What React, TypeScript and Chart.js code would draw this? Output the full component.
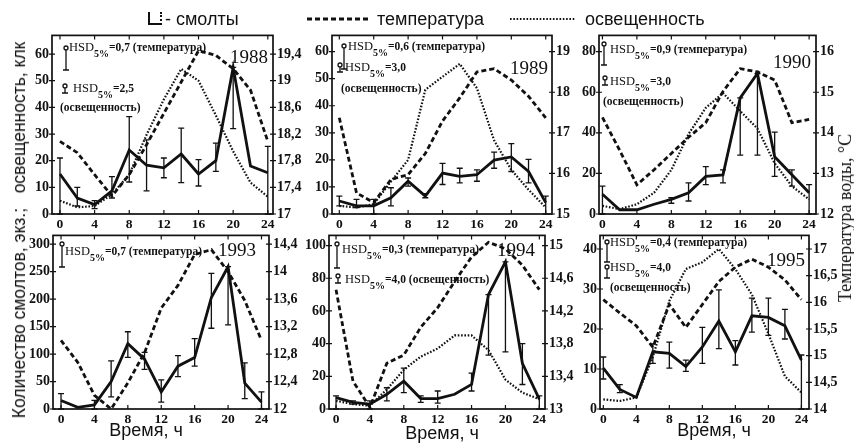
import React, { useEffect, useRef } from 'react';
import { Chart, registerables } from 'chart.js';

Chart.register(...registerables);

// ---------- data ----------
const hours = [0, 2, 4, 6, 8, 10, 12, 14, 16, 18, 20, 22, 24];
const hourTicks = [0, 4, 8, 12, 16, 20, 24];

// 1988
const smolts1988 = [15, 6, 3.5, 8.7, 24, 18.3, 17.3, 22.5, 15, 20, 55, 18, 15.5];
const smoltsLo1988 = [0, 3, 2, 6, 12, 8.7, 13.6, 11.8, 10.5, 16, 32, 18, 0];
const smoltsHi1988 = [21, 10, 5, 14, 36.5, 27.8, 21, 32.2, 20.4, 26.6, 55, 18, 25.4];
const temp1988 = [18.09, 17.92, 17.59, 17.27, 17.59, 18.04, 18.51, 18.98, 19.45, 19.38, 19.18, 18.86, 18.09];
const light1988 = [5, 2.5, 3, 7.4, 14.8, 29.7, 43, 54.4, 50, 37, 23.5, 11.8, 6.5];
const leftTicks1988 = [0, 10, 20, 30, 40, 50, 60];
const rightTicks1988 = [17, 17.4, 17.8, 18.2, 18.6, 19, 19.4];

// 1989
const smolts1989 = [4.8, 3.0, 3.0, 6.0, 12.1, 6.6, 15.1, 13.9, 14.5, 19.9, 21.1, 15.7, 4.2];
const smoltsLo1989 = [3, 2.4, 0, 3, 10.3, 6, 10.9, 11.5, 12.1, 16.9, 15.7, 11.5, 0];
const smoltsHi1989 = [6.6, 5.4, 5.4, 9.7, 13.3, 7.5, 18.7, 16.9, 16.3, 22.9, 26, 20.2, 6.6];
const temp1989 = [17.37, 15.52, 15.28, 15.85, 15.97, 16.49, 17.29, 17.86, 18.5, 18.58, 18.3, 17.9, 17.37];
const light1989 = [3, 2.4, 3.6, 12, 20, 45.9, 50.7, 55.5, 46.5, 27.2, 16.3, 9, 2.4];
const leftTicks1989 = [0, 10, 20, 30, 40, 50, 60];
const rightTicks1989 = [15, 16, 17, 18, 19];

// 1990
const smolts1990 = [9.7, 2.1, 2.1, 4.8, 7.2, 10.5, 18.5, 19.3, 57.2, 69.2, 28.2, 19.3, 10.5];
const smoltsLo1990 = [0, 2.1, 2.1, 4.8, 5.3, 6.4, 14.5, 15.3, 29, 29, 18.5, 13.7, 0];
const smoltsHi1990 = [13.7, 2.1, 2.1, 4.8, 8, 15.3, 23.3, 21.7, 57.2, 69.2, 40.3, 21.7, 14.5];
const temp1990 = [14.38, 13.57, 12.72, 13.09, 13.49, 13.89, 14.25, 15.02, 15.58, 15.5, 15.3, 14.25, 14.33];
const light1990 = [4, 2.4, 4.8, 10.5, 21.7, 39.4, 52.3, 59.6, 50.7, 42.1, 25, 13.7, 7.2];
const leftTicks1990 = [0, 20, 40, 60, 80];
const rightTicks1990 = [12, 13, 14, 15, 16];

// 1993
const smolts1993 = [15.6, 3, 7.5, 50, 118.8, 90.6, 31, 78, 93.8, 203, 259, 47, 12.5];
const smoltsLo1993 = [0, 3, 0, 21.9, 93.8, 72, 12.5, 59, 78, 147, 153, 19, 0];
const smoltsHi1993 = [28, 3, 15.6, 87.5, 140.6, 103, 53, 97, 128, 247, 259, 84, 31];
const temp1993 = [13.0, 12.68, 12.2, 12.0, 12.38, 12.82, 13.47, 13.8, 14.25, 14.32, 14.0, 13.58, 13.0];
const leftTicks1993 = [0, 50, 100, 150, 200, 250, 300];
const rightTicks1993 = [12, 12.4, 12.8, 13.2, 13.6, 14, 14.4];

// 1994
const smolts1994 = [7, 4, 3, 9, 17, 6.4, 6.4, 9, 15, 70, 90, 28, 6];
const smoltsLo1994 = [0, 3, 0, 5, 10, 4, 3.6, 9, 11, 33, 35, 15, 0];
const smoltsHi1994 = [8, 5, 5, 13, 25, 8, 11, 9, 22, 70, 90, 40, 8];
const temp1994 = [14.46, 13.34, 13.02, 13.56, 13.66, 14.0, 14.24, 14.56, 14.86, 15.04, 14.96, 14.76, 14.46];
const light1994 = [5, 3, 2, 12, 24, 32, 37, 45, 45, 36, 18, 10, 6];
const leftTicks1994 = [0, 20, 40, 60, 80, 100];
const rightTicks1994 = [13, 13.4, 13.8, 14.2, 14.6, 15];

// 1995
const smolts1995 = [10.2, 4.9, 2.9, 14.3, 13.9, 10.6, 15.5, 22, 14.3, 23.3, 22.9, 20.8, 12.2];
const smoltsLo1995 = [7.5, 4.1, 2.9, 11.4, 10.2, 9.4, 11.4, 15.1, 11, 19.2, 18.4, 17.5, 0];
const smoltsHi1995 = [13, 6.1, 2.9, 16.3, 16.7, 12.2, 20.4, 29.8, 17.1, 27.7, 27.7, 24.9, 13.5];
const temp1995 = [16.05, 15.8, 15.56, 15.16, 15.96, 15.53, 15.96, 16.39, 16.66, 16.81, 16.66, 16.42, 16.05];
const light1995 = [2.4, 2, 2.9, 13, 27, 35, 36.7, 40, 35, 28.6, 18.8, 8.2, 4.1];
const leftTicks1995 = [0, 10, 20, 30, 40];
const rightTicks1995 = [14, 14.5, 15, 15.5, 16, 16.5, 17];

// ---------- layout / style ----------
const W_L = 30;
const W_R = 34;
const PAD_T = 10;
const H_X = 18;
const INK = '#111';
const SERIF = '"Liberation Serif", "Times New Roman", serif';
const SANS = '"Liberation Sans", Arial, sans-serif';

type Marker = { x: number; y1: number; y2: number };
type TextItem = { x: number; y: number; hsd?: string; text?: string };
type PanelCfg = {
  year: string;
  smolts: number[];
  lo: number[];
  hi: number[];
  temp: number[];
  light?: number[];
  leftTicks: number[];
  rightTicks: number[];
  yMax: number;
  box: { L: number; R: number; T: number; B: number };
  xRange: [number, number];
  markers: Marker[];
  texts: TextItem[];
  yearPos: { x: number; y: number };
};

const panels: PanelCfg[] = [
  {
    year: '1988', smolts: smolts1988, lo: smoltsLo1988, hi: smoltsHi1988, temp: temp1988, light: light1988,
    leftTicks: leftTicks1988, rightTicks: rightTicks1988, yMax: 67,
    box: { L: 52, R: 273, T: 33, B: 214 }, xRange: [-0.92, 24.6],
    markers: [{ x: 66, y1: 46, y2: 70 }, { x: 65, y1: 84, y2: 93 }],
    texts: [
      { x: 69, y: 41, hsd: '=0,7 (температура)' },
      { x: 73, y: 82, hsd: '=2,5' },
      { x: 60, y: 101, text: '(освещенность)' },
    ],
    yearPos: { x: 230, y: 47 },
  },
  {
    year: '1989', smolts: smolts1989, lo: smoltsLo1989, hi: smoltsHi1989, temp: temp1989, light: light1989,
    leftTicks: leftTicks1989, rightTicks: rightTicks1989, yMax: 66,
    box: { L: 332, R: 552, T: 33, B: 214 }, xRange: [-0.85, 24.73],
    markers: [{ x: 344, y1: 44, y2: 69 }, { x: 340, y1: 63, y2: 72 }],
    texts: [
      { x: 348, y: 40, hsd: '=0,6 (температура)' },
      { x: 345, y: 61, hsd: '=3,0' },
      { x: 341, y: 82, text: '(освещенность)' },
    ],
    yearPos: { x: 510, y: 58 },
  },
  {
    year: '1990', smolts: smolts1990, lo: smoltsLo1990, hi: smoltsHi1990, temp: temp1990, light: light1990,
    leftTicks: leftTicks1990, rightTicks: rightTicks1990, yMax: 88,
    box: { L: 599, R: 816, T: 33, B: 214 }, xRange: [-0.4, 24.8],
    markers: [{ x: 604, y1: 42, y2: 65 }, { x: 605, y1: 76, y2: 85 }],
    texts: [
      { x: 610, y: 43, hsd: '=0,9 (температура)' },
      { x: 610, y: 75, hsd: '=3,0' },
      { x: 603, y: 95, text: '(освещенность)' },
    ],
    yearPos: { x: 773, y: 52 },
  },
  {
    year: '1993', smolts: smolts1993, lo: smoltsLo1993, hi: smoltsHi1993, temp: temp1993,
    leftTicks: leftTicks1993, rightTicks: rightTicks1993, yMax: 316,
    box: { L: 53, R: 269, T: 233, B: 409 }, xRange: [-0.96, 24.9],
    markers: [{ x: 62, y1: 242, y2: 267 }],
    texts: [{ x: 65, y: 245, hsd: '=0,7 (температура)' }],
    yearPos: { x: 218, y: 240 },
  },
  {
    year: '1994', smolts: smolts1994, lo: smoltsLo1994, hi: smoltsHi1994, temp: temp1994, light: light1994,
    leftTicks: leftTicks1994, rightTicks: rightTicks1994, yMax: 106.2,
    box: { L: 329, R: 545, T: 233, B: 409 }, xRange: [-0.83, 24.67],
    markers: [{ x: 337, y1: 242, y2: 268 }, { x: 338, y1: 274, y2: 283 }],
    texts: [
      { x: 342, y: 243, hsd: '=0,3 (температура)' },
      { x: 345, y: 273, hsd: '=4,0 (освещенность)' },
    ],
    yearPos: { x: 497, y: 240 },
  },
  {
    year: '1995', smolts: smolts1995, lo: smoltsLo1995, hi: smoltsHi1995, temp: temp1995, light: light1995,
    leftTicks: leftTicks1995, rightTicks: rightTicks1995, yMax: 43.4,
    box: { L: 600, R: 809, T: 233, B: 409 }, xRange: [-0.4, 24.92],
    markers: [{ x: 607, y1: 240, y2: 262 }, { x: 607, y1: 265, y2: 278 }],
    texts: [
      { x: 610, y: 236, hsd: '=0,4 (температура)' },
      { x: 610, y: 261, hsd: '=4,0' },
      { x: 610, y: 281, text: '(освещенность)' },
    ],
    yearPos: { x: 767, y: 250 },
  },
];

const fmt = (v: number) => String(Math.round(v * 100) / 100).replace('.', ',');

function Panel({ cfg }: { cfg: PanelCfg }) {
  const ref = useRef<HTMLCanvasElement>(null);
  const { L, R, T, B } = cfg.box;
  const cw = R - L + W_L + W_R;
  const ch = B - T + PAD_T + H_X;
  const cl = L - W_L;
  const ct = T - PAD_T;

  useEffect(() => {
    const canvas = ref.current;
    if (!canvas) return;
    const lTop = cfg.leftTicks[cfg.leftTicks.length - 1];
    const rMin = cfg.rightTicks[0];
    const rTop = cfg.rightTicks[cfg.rightTicks.length - 1];
    const y2Max = rMin + ((rTop - rMin) * cfg.yMax) / lTop;

    const overlay = {
      id: 'overlay',
      afterDatasetsDraw(chart: any) {
        const { ctx, chartArea } = chart;
        const { left, right, top, bottom } = chartArea;
        const xs = chart.scales.x;
        const ys = chart.scales.y;
        const y2s = chart.scales.y2;
        ctx.save();
        ctx.strokeStyle = INK;
        ctx.lineCap = 'butt';
        // error bars
        ctx.lineWidth = 1.3;
        hours.forEach((h, i) => {
          const lo = cfg.lo[i];
          const hi = cfg.hi[i];
          if (lo == null || hi == null || hi - lo <= 0) return;
          const px = xs.getPixelForValue(h);
          const pLo = ys.getPixelForValue(lo);
          const pHi = ys.getPixelForValue(hi);
          ctx.beginPath();
          ctx.moveTo(px, pLo);
          ctx.lineTo(px, pHi);
          ctx.moveTo(px - 3, pLo);
          ctx.lineTo(px + 3, pLo);
          ctx.moveTo(px - 3, pHi);
          ctx.lineTo(px + 3, pHi);
          ctx.stroke();
        });
        // frame
        ctx.lineWidth = 1.7;
        ctx.strokeRect(left, top, right - left, bottom - top);
        ctx.lineWidth = 1.2;
        ctx.beginPath();
        hourTicks.forEach((h) => {
          const px = xs.getPixelForValue(h);
          ctx.moveTo(px, bottom);
          ctx.lineTo(px, bottom - 4);
          ctx.moveTo(px, top);
          ctx.lineTo(px, top + 4);
        });
        cfg.leftTicks.forEach((v) => {
          const py = ys.getPixelForValue(v);
          ctx.moveTo(left - 3, py);
          ctx.lineTo(left + 3, py);
        });
        cfg.rightTicks.forEach((v) => {
          const py = y2s.getPixelForValue(v);
          ctx.moveTo(right - 3, py);
          ctx.lineTo(right + 3, py);
        });
        ctx.stroke();
        // HSD markers
        ctx.lineWidth = 1.3;
        cfg.markers.forEach((m) => {
          const mx = m.x - cl;
          const my1 = m.y1 - ct;
          const my2 = m.y2 - ct;
          ctx.beginPath();
          ctx.arc(mx, my1 + 2, 2, 0, Math.PI * 2);
          ctx.moveTo(mx, my1 + 4);
          ctx.lineTo(mx, my2);
          ctx.moveTo(mx - 3, my2);
          ctx.lineTo(mx + 3, my2);
          ctx.stroke();
        });
        ctx.restore();
      },
    };

    const pts = (arr: number[]) => hours.map((h, i) => ({ x: h, y: arr[i] }));
    const datasets: any[] = [];
    if (cfg.light) {
      datasets.push({
        label: 'освещенность', data: pts(cfg.light), yAxisID: 'y',
        borderColor: INK, borderWidth: 2.2, borderDash: [1.6, 1.7], pointRadius: 0, tension: 0,
      });
    }
    datasets.push({
      label: 'температура', data: pts(cfg.temp), yAxisID: 'y2',
      borderColor: INK, borderWidth: 2.8, borderDash: [5, 3], pointRadius: 0, tension: 0,
    });
    datasets.push({
      label: 'смолты', data: pts(cfg.smolts), yAxisID: 'y',
      borderColor: INK, borderWidth: 2.8, pointRadius: 0, tension: 0,
    });

    const tickFont = { family: SERIF, size: 14, weight: 'bold' as const };
    const chart = new Chart(canvas, {
      type: 'line',
      data: { datasets },
      options: {
        animation: false,
        responsive: false,
        events: [],
        layout: { padding: { top: PAD_T, left: 0, right: 0, bottom: 0 } },
        plugins: { legend: { display: false }, tooltip: { enabled: false } },
        scales: {
          x: {
            type: 'linear', min: cfg.xRange[0], max: cfg.xRange[1],
            afterBuildTicks: (s: any) => { s.ticks = hourTicks.map((v) => ({ value: v })); },
            afterFit: (s: any) => { s.height = H_X; },
            grid: { display: false, drawTicks: false },
            border: { display: false },
            ticks: { font: { family: SERIF, size: 13.5, weight: 'bold' }, color: INK, padding: 2, maxRotation: 0, autoSkip: false, callback: (v: any) => String(v) },
          },
          y: {
            type: 'linear', position: 'left', min: 0, max: cfg.yMax,
            afterBuildTicks: (s: any) => { s.ticks = cfg.leftTicks.map((v) => ({ value: v })); },
            afterFit: (s: any) => { s.width = W_L; },
            grid: { display: false, drawTicks: false },
            border: { display: false },
            ticks: { font: tickFont, color: INK, padding: 3, autoSkip: false, callback: (v: any) => fmt(v) },
          },
          y2: {
            type: 'linear', position: 'right', min: rMin, max: y2Max,
            afterBuildTicks: (s: any) => { s.ticks = cfg.rightTicks.map((v) => ({ value: v })); },
            afterFit: (s: any) => { s.width = W_R; },
            grid: { display: false, drawTicks: false },
            border: { display: false },
            ticks: { font: tickFont, color: INK, padding: 4, autoSkip: false, callback: (v: any) => fmt(v) },
          },
        },
      } as any,
      plugins: [overlay],
    });
    return () => chart.destroy();
  }, []);

  return (
    <canvas
      ref={ref}
      width={cw}
      height={ch}
      style={{ position: 'absolute', left: cl, top: ct, width: cw, height: ch }}
    />
  );
}

function HsdText({ item }: { item: TextItem }) {
  const base: React.CSSProperties = {
    position: 'absolute', left: item.x, top: item.y, fontFamily: SERIF, fontSize: 11.5,
    lineHeight: '13px', whiteSpace: 'nowrap', color: INK, fontWeight: 'bold',
  };
  if (item.text) return <div style={base}>{item.text}</div>;
  return (
    <div style={base}>
      <span style={{ fontSize: 12.5, fontWeight: 'normal' }}>HSD</span>
      <span style={{ fontSize: 10, position: 'relative', top: 6 }}>5%</span>
      <span>{item.hsd}</span>
    </div>
  );
}

export default function App() {
  return (
    <div style={{ position: 'fixed', left: 0, top: 0, width: 854, height: 443, background: '#fff', overflow: 'hidden' }}>
      {panels.map((p) => <Panel key={p.year} cfg={p} />)}

      {panels.map((p) => (
        <React.Fragment key={'t' + p.year}>
          {p.texts.map((t, i) => <HsdText key={i} item={t} />)}
          <div style={{ position: 'absolute', left: p.yearPos.x, top: p.yearPos.y, fontFamily: SERIF, fontSize: 19, lineHeight: '20px', color: INK }}>{p.year}</div>
        </React.Fragment>
      ))}

      {/* legend */}
      <div style={{ position: 'absolute', left: 148, top: 12, width: 10, height: 11, borderLeft: `2px solid ${INK}`, borderBottom: `2px solid ${INK}`, borderRight: `2px dotted ${INK}` }} />
      <div style={{ position: 'absolute', left: 165, top: 8, fontFamily: SANS, fontSize: 18, lineHeight: '22px', color: INK, whiteSpace: 'nowrap' }}>- смолты</div>
      <svg style={{ position: 'absolute', left: 307, top: 14 }} width={62} height={10}>
        <line x1={0} y1={5} x2={62} y2={5} stroke={INK} strokeWidth={3} strokeDasharray="5,3" />
      </svg>
      <div style={{ position: 'absolute', left: 377, top: 8, fontFamily: SANS, fontSize: 18, lineHeight: '22px', color: INK, whiteSpace: 'nowrap' }}>температура</div>
      <svg style={{ position: 'absolute', left: 510, top: 14 }} width={66} height={10}>
        <line x1={0} y1={5} x2={66} y2={5} stroke={INK} strokeWidth={2.2} strokeDasharray="1.6,1.7" />
      </svg>
      <div style={{ position: 'absolute', left: 585, top: 8, fontFamily: SANS, fontSize: 18, lineHeight: '22px', color: INK, whiteSpace: 'nowrap' }}>освещенность</div>

      {/* axis titles */}
      <div style={{ position: 'absolute', left: 19, top: 230, transform: 'translate(-50%, -50%) rotate(-90deg)', fontFamily: SANS, fontSize: 17.5, lineHeight: '20px', color: INK, whiteSpace: 'nowrap' }}>
        Количество смолтов, экз.;{'\u00a0\u00a0\u00a0'}освещенность, клк
      </div>
      <div style={{ position: 'absolute', left: 845, top: 218, transform: 'translate(-50%, -50%) rotate(-90deg)', fontFamily: SERIF, fontSize: 18, lineHeight: '20px', color: INK, whiteSpace: 'nowrap' }}>
        Температура воды, °C
      </div>

      {[{ x: 146, y: 430 }, { x: 442, y: 433 }, { x: 714, y: 430 }].map((p, i) => (
        <div key={i} style={{ position: 'absolute', left: p.x, top: p.y, transform: 'translate(-50%, -50%)', fontFamily: SANS, fontSize: 18, lineHeight: '20px', color: INK, whiteSpace: 'nowrap' }}>
          Время, ч
        </div>
      ))}
    </div>
  );
}
